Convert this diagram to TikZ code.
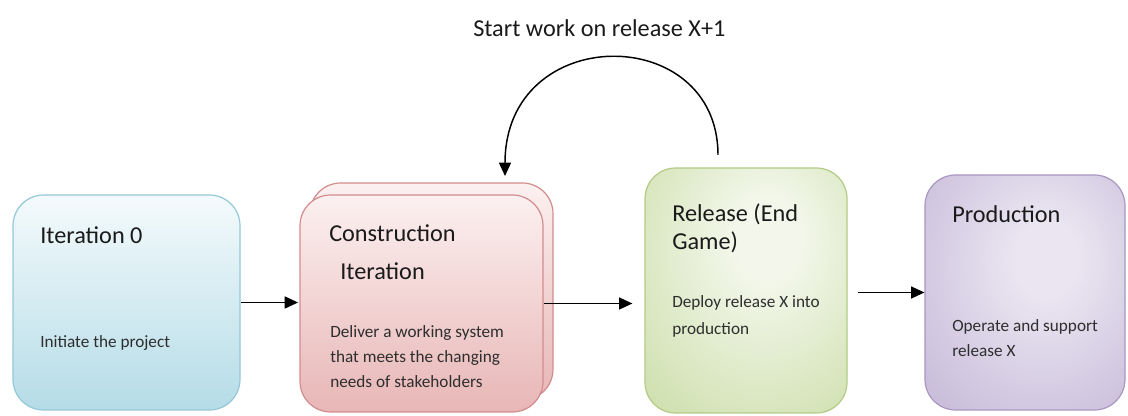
\documentclass[tikz,border=0pt]{standalone}
\usepackage{fontspec}
\setmainfont{Carlito}
\usetikzlibrary{arrows.meta}
\definecolor{txt}{HTML}{1A1A1A}
\definecolor{bodytxt}{HTML}{2E2E2E}
\definecolor{blueB}{HTML}{93C8D8}
\definecolor{blueTop}{HTML}{F4FAFC}
\definecolor{blueBot}{HTML}{B5DCE7}
\definecolor{pinkB}{HTML}{D38C8C}
\definecolor{pinkTop}{HTML}{FCF0F0}
\definecolor{pinkBot}{HTML}{E8B6B6}
\definecolor{greenB}{HTML}{B3CB85}
\definecolor{greenIn}{HTML}{F3F7EB}
\definecolor{greenOut}{HTML}{C6DA9F}
\definecolor{purpB}{HTML}{A996C2}
\definecolor{purpIn}{HTML}{EAE5F1}
\definecolor{purpOut}{HTML}{BBADD1}
\pgfdeclareradialshading{gshade}{\pgfpoint{6bp}{12bp}}{%
  color(0bp)=(greenIn); color(8bp)=(greenIn); color(48bp)=(greenOut); color(80bp)=(greenOut)}
\pgfdeclareradialshading{pshade}{\pgfpoint{6bp}{8bp}}{%
  color(0bp)=(purpIn); color(8bp)=(purpIn); color(50bp)=(purpOut); color(80bp)=(purpOut)}
\tikzset{
  stage/.style={rounded corners=23pt, line width=0.9pt, inner sep=0pt},
  head/.style={anchor=base west, inner sep=0pt, text=txt, font=\fontsize{18.2}{22}\selectfont},
  body/.style={anchor=base west, inner sep=0pt, text=bodytxt, font=\fontsize{12.9}{16}\selectfont},
  arr/.style={line width=1.1pt, -{Triangle[length=10pt,width=9pt]}}
}
\begin{document}
\begin{tikzpicture}[x=0.75pt,y=-0.75pt]
\useasboundingbox[fill=white] (0,0) rectangle (1128,416);
% boxes
\node[stage, draw=blueB, top color=blueTop, bottom color=blueBot,
  minimum width=170.25pt, minimum height=161.25pt] (b1) at (126.5,302.5) {};
\node[stage, draw=pinkB, top color=pinkTop, bottom color=pinkBot,
  minimum width=182.25pt, minimum height=162.75pt] (b2back) at (431.5,291.5) {};
\node[stage, draw=pinkB, top color=pinkTop, bottom color=pinkBot,
  minimum width=182.25pt, minimum height=162.75pt] (b2) at (421.5,303.5) {};
\node[stage, draw=greenB, shading=gshade,
  minimum width=151.5pt, minimum height=183.75pt] (b3) at (746,290.5) {};
\node[stage, draw=purpB, shading=pshade,
  minimum width=150pt, minimum height=176.25pt] (b4) at (1025,292.5) {};
% texts
\node[head] (t1a) at (40,244) {Iteration 0};
\node[body] (t1b) at (40,348) {Initiate the project};
\node[head] (t2a) at (329,242) {Construction};
\node[head] (t2b) at (340,280) {Iteration};
\node[body] (t2c) at (330,338) {Deliver a working system};
\node[body] (t2d) at (330,363) {that meets the changing};
\node[body] (t2e) at (330,388) {needs of stakeholders};
\node[head] (t3a) at (672,222) {Release (End};
\node[head] (t3b) at (672,250) {Game)};
\node[body] (t3c) at (672,308) {Deploy release X into};
\node[body] (t3d) at (672,335) {production};
\node[head] (t4a) at (952,223) {Production};
\node[body] (t4b) at (952,332) {Operate and support};
\node[body] (t4c) at (952,357) {release X};
\node[head] (top) at (473,37) {Start work on release X+1};
% connectors
\coordinate (loopS) at (718,155);
\coordinate (loopE) at (505,176);
\draw[arr, shorten >=1pt] (b1.east) -- (b2.west |- b1.east);
\draw[arr, shorten >=9pt] (b2.east) -- (b3.west |- b2.east);
\draw[arr, shorten <=8pt] (b3.east |- b4.west) -- (b4.west);
\draw[arr] (loopS) .. controls (718,22) and (505,22) .. (loopE);
\end{tikzpicture}
\end{document}
